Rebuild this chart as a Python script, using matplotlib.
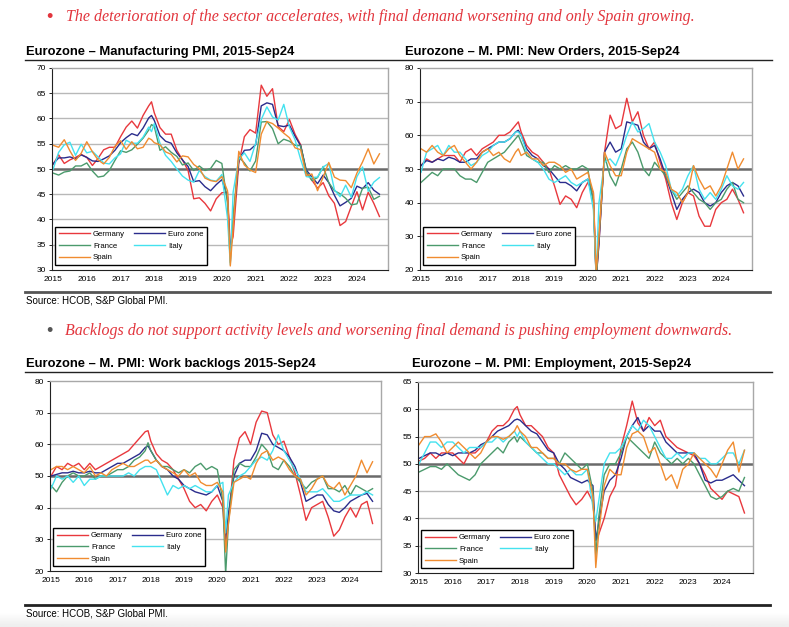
import numpy as np
import matplotlib
matplotlib.use('Agg')
import matplotlib.pyplot as plt
from matplotlib.lines import Line2D

plt.rcParams['font.family'] = ['Liberation Sans', 'DejaVu Sans']

# sample months (bi-monthly, plus a few turning points)
months = ['2015-01', '2015-03', '2015-05', '2015-07', '2015-09', '2015-11',
          '2016-01', '2016-03', '2016-05', '2016-07', '2016-09', '2016-11',
          '2017-01', '2017-03', '2017-05', '2017-07', '2017-09', '2017-11', '2017-12',
          '2018-01', '2018-03', '2018-05', '2018-07', '2018-09', '2018-11',
          '2019-01', '2019-03', '2019-05', '2019-07', '2019-09', '2019-11',
          '2020-01', '2020-03', '2020-04', '2020-05', '2020-07', '2020-09', '2020-11',
          '2021-01', '2021-03', '2021-05', '2021-07', '2021-09', '2021-11',
          '2022-01', '2022-03', '2022-05', '2022-07', '2022-09', '2022-11',
          '2023-01', '2023-03', '2023-05', '2023-07', '2023-09', '2023-11',
          '2024-01', '2024-03', '2024-05', '2024-07', '2024-09']

years = list(range(2015, 2025))
countries = ['Germany', 'Euro zone', 'France', 'Italy', 'Spain']

# Manufacturing PMI
mfg_germany = [50.9, 52.8, 51.1, 51.8, 52.3, 52.9,
               52.3, 50.7, 52.1, 53.8, 54.3, 54.3,
               56.4, 58.3, 59.5, 58.1, 60.6, 62.5, 63.3,
               61.1, 58.2, 56.9, 56.9, 53.7, 51.8,
               49.7, 44.1, 44.3, 43.2, 41.7, 44.1,
               45.3, 45.4, 34.5, 36.6, 51.0, 56.4, 57.8,
               57.1, 66.6, 64.4, 65.9, 58.4, 57.4,
               59.8, 56.9, 54.8, 49.3, 47.8, 46.2,
               47.3, 44.7, 43.2, 38.8, 39.6, 42.6,
               45.5, 41.9, 45.4, 43.2, 40.6]
mfg_ez = [51.0, 52.2, 52.2, 52.4, 52.0, 52.8,
          52.3, 51.6, 51.5, 52.0, 52.6, 53.7,
          55.2, 56.2, 57.0, 56.6, 58.1, 60.1, 60.6,
          59.6, 56.6, 55.5, 55.1, 53.2, 51.8,
          50.5, 47.5, 47.7, 46.5, 45.7, 46.9,
          47.9, 44.5, 33.4, 39.4, 51.8, 53.7, 53.8,
          54.8, 62.5, 63.1, 62.8, 58.6, 58.4,
          58.7, 56.5, 54.6, 49.8, 48.4, 47.1,
          48.8, 47.3, 44.8, 42.7, 43.4, 44.2,
          46.6, 46.1, 47.3, 45.8, 45.0]
mfg_france = [49.2, 48.8, 49.4, 49.6, 50.6, 50.6,
              51.2, 49.6, 48.4, 48.6, 49.7, 51.7,
              53.6, 53.3, 53.8, 54.9, 56.1, 57.7, 58.8,
              58.4, 53.7, 54.4, 53.3, 52.5, 50.8,
              51.2, 49.7, 50.6, 49.7, 50.1, 51.7,
              51.1, 43.2, 31.5, 40.6, 52.4, 51.2, 49.6,
              51.6, 59.3, 59.4, 58.0, 55.0, 55.9,
              55.5, 54.7, 54.6, 49.5, 47.7, 48.3,
              50.5, 47.3, 45.7, 45.1, 44.2, 42.9,
              43.1, 46.2, 46.4, 44.0, 44.6]
mfg_italy = [49.9, 53.3, 54.8, 55.3, 52.7, 54.9,
             53.2, 53.5, 52.4, 51.2, 51.0, 52.2,
             53.0, 55.7, 55.1, 55.1, 56.3, 58.3, 57.4,
             59.0, 55.1, 52.7, 51.5, 50.0, 48.6,
             47.8, 47.4, 49.7, 48.5, 47.8, 47.6,
             48.9, 40.3, 31.1, 45.4, 51.9, 53.2, 51.5,
             55.1, 59.8, 62.3, 60.3, 59.7, 62.8,
             58.3, 55.8, 51.9, 48.5, 48.3, 48.4,
             50.4, 51.1, 45.9, 44.5, 46.8, 44.4,
             48.5, 50.4, 45.6, 47.4, 48.3]
mfg_spain = [54.7, 54.3, 55.8, 53.6, 51.7, 53.1,
             55.4, 53.4, 51.8, 51.0, 52.3, 54.5,
             55.6, 53.9, 55.4, 54.0, 54.3, 56.1, 55.8,
             55.2, 54.8, 53.4, 52.9, 51.4, 52.6,
             52.4, 50.9, 50.1, 48.2, 47.7, 47.5,
             48.5, 45.7, 30.8, 38.3, 53.5, 50.8, 49.8,
             49.3, 56.9, 59.4, 59.0, 58.1, 57.1,
             56.2, 54.2, 53.8, 48.7, 49.0, 45.7,
             48.4, 51.3, 48.4, 47.8, 47.7, 46.3,
             49.2, 51.4, 54.0, 51.0, 53.0]

# New orders
no_germany = [51, 53, 52, 53, 54, 54,
              54, 52, 55, 56, 54, 56,
              57, 58, 60, 60, 61, 63, 64,
              61, 57, 55, 54, 52, 50,
              45, 39.5, 42, 41, 38.5, 43,
              46, 43, 17, 28, 55, 66, 62,
              63, 71, 64, 67, 60, 56,
              58, 52, 47, 40, 35, 40,
              43, 42, 36, 33, 33, 38,
              40, 41, 44, 41, 37]
no_ez = [51, 52.5, 52, 53, 52.5, 53.5,
         53, 52, 52, 53, 53, 55,
         56, 57, 58, 58, 59, 61, 61.5,
         60, 56, 54, 53, 51, 50,
         48, 46, 46, 45, 43.5, 46,
         47, 41, 17.5, 28, 55, 58, 55,
         56, 64, 63.5, 63, 58, 56,
         57, 53, 48, 43, 38, 41,
         43, 44, 43, 40, 39, 40,
         43, 45, 46, 45, 42]
no_france = [46, 47.5, 49, 48, 50, 50,
             50, 48, 47, 47, 46, 49,
             52, 53, 54, 55, 57, 59, 60,
             58, 54, 53, 52, 52, 49,
             51, 50, 51, 50, 50, 51,
             50, 40, 17, 30, 54, 48, 45,
             50, 56, 58, 55, 50, 48,
             52, 50, 48, 44, 41, 43,
             45, 43, 41, 40, 38, 40,
             41, 44, 46, 41, 40]
no_italy = [49, 55, 56, 57, 54, 57,
            55, 55, 53, 51, 52, 54,
            55, 57, 58, 58, 59, 61, 61,
            60, 55, 53, 52, 50, 47,
            46, 47, 48, 46, 45, 46,
            47, 38, 19, 40, 52, 53, 51,
            55, 60, 64, 61, 62, 63.5,
            58, 55, 51, 44, 42, 44,
            48, 51, 44, 41, 43, 41,
            44, 48, 45, 44, 46]
no_spain = [56, 55, 57, 55, 54, 56,
            57, 54, 52, 50, 52, 55,
            56, 54, 55, 53, 52, 55, 56,
            54, 55, 53, 53, 51, 52,
            52, 51, 49, 50, 47, 48,
            49, 43, 19, 30, 55, 51, 48,
            48, 55, 59, 58, 57, 56,
            55, 50, 49, 44, 43, 40,
            43, 51, 47, 44, 45, 42,
            45, 50, 55, 50, 53]

# Work backlogs
bl_germany = [50, 53, 52, 54, 53, 54,
              52, 54, 52, 53, 54, 55,
              56, 57, 58, 60, 62, 64, 64.3,
              61, 57, 55, 54, 52, 49,
              46, 42, 40, 41, 39, 42,
              44, 40, 27, 36, 55, 62, 64,
              60, 67, 70.5, 70, 63, 60,
              61, 56, 51, 44, 36, 40,
              41, 42, 37, 31, 33, 37,
              40, 37, 41, 42, 35]
bl_ez = [50, 50.5, 51, 51, 51.5, 51,
         51, 51.5, 51, 51, 52, 53,
         54, 54, 55, 56, 57, 59, 59.5,
         58, 55, 53, 52, 50, 49,
         47, 46, 45, 44.5, 44, 45,
         47, 42, 30, 38, 50, 54, 55,
         55, 58, 63.5, 63, 60, 59,
         58, 56, 53, 48, 42, 43,
         44, 44, 41, 39, 38.5, 40,
         42, 43, 44, 44.5, 42]
bl_france = [47, 45, 48, 50, 51, 50,
             50, 51, 49, 50, 50, 51,
             52, 52, 53, 55, 56, 58, 60.5,
             58, 55, 53, 53, 52, 51,
             52, 51, 53, 54, 52, 53,
             52, 42, 19, 35, 52, 54, 53,
             53, 56, 60, 58, 53, 52,
             55, 53, 50, 48, 46, 48,
             49, 50, 46, 46, 45, 47,
             44, 47, 46, 45, 46]
bl_italy = [46, 50, 49, 50, 48, 50,
            47, 49, 49, 50, 50, 50,
            50, 50, 51, 50, 52, 53, 53,
            53, 52, 48, 44, 47, 46,
            47, 46, 47, 46, 45, 45,
            47, 48, 32, 44, 48, 50, 51,
            53, 55, 56, 55, 58, 63,
            58, 55, 52, 49, 45, 45,
            45, 46, 44, 42, 42, 43,
            44, 44, 44, 45, 44]
bl_spain = [52, 53, 53, 52, 53, 52,
            51, 53, 50, 51, 50, 52,
            53, 54, 53, 53, 54, 55, 55,
            54, 55, 53, 52, 51, 50,
            52, 50, 51, 48, 47, 47,
            48, 45, 26, 35, 48, 49, 50,
            49, 54, 57, 58, 55, 56,
            55, 52, 50, 49, 44, 46,
            49, 50, 47, 46, 48, 44,
            47, 50, 55, 51, 54.5]

# Employment
emp_germany = [50.5, 51, 52, 51, 52, 52,
               52, 51, 50, 52, 52, 53,
               54, 56, 57, 57, 58, 60, 60.5,
               59, 57, 57, 56, 55, 53,
               52, 48, 46, 44, 42.5, 43.5,
               45, 43, 36, 37, 40, 44, 46,
               53, 57, 61.5, 57.5, 56, 58.5,
               57, 58, 55, 54, 53, 52.5,
               52, 51.5, 50, 48, 45.5, 44.5,
               43.5, 45, 44.5, 44, 41]
emp_ez = [51, 51.5, 52, 52, 51.5, 52,
          51.5, 52, 52, 52, 52.5, 53.5,
          54, 55, 56, 56.5, 57, 58, 58.2,
          58, 57, 56, 55.5, 54, 52.5,
          52, 50, 49, 47.5, 47, 46.5,
          47, 46, 36, 39, 45, 47, 48,
          51, 55, 57, 58.5, 56, 57,
          56, 56, 54, 53, 52, 52,
          52, 52, 50, 47, 46.5, 47,
          47, 47.5, 48, 47, 46]
emp_france = [48.5, 49, 49.5, 49.5, 49, 50,
              49, 48, 47.5, 47, 48, 50,
              51, 52, 53, 52, 54, 55, 54,
              55, 54, 53, 52, 52, 51,
              51, 50, 52, 51, 50, 49,
              50, 45, 33, 40, 48, 50, 50,
              52, 55, 54, 53, 52, 51,
              54, 52, 51, 50, 51, 50,
              51, 50, 48, 46, 44, 43.5,
              44, 45, 45.5, 45, 47.5]
emp_italy = [50, 52, 54, 54, 53, 54,
             54, 53, 52, 53, 53, 53,
             54, 54, 55, 54, 55, 56, 55,
             56, 54, 53, 52, 51, 50,
             50, 49, 48, 49, 48, 48,
             49, 42, 39.5, 43, 50, 52, 52,
             53, 55, 57, 56, 58, 57,
             55, 53, 51, 51, 52, 51,
             52, 52, 51, 51, 50, 50,
             51, 52, 52, 50, 52.5]
emp_spain = [53.5, 55, 55, 55.5, 54, 52,
             53, 54, 53, 52, 51, 52,
             54, 55, 55, 54.5, 55, 56, 57,
             56, 55, 53, 53, 52, 51,
             51, 50, 50, 49, 48.5, 49,
             49, 44, 31, 37, 46, 49, 48,
             48, 53, 55.5, 56, 55, 52,
             53, 50, 47, 48, 45.5, 49,
             50, 52, 51, 50, 49, 47.5,
             50, 52.5, 54, 48.5, 52.5]

colors = {'Germany': '#e8383d', 'Euro zone': '#2a2c8c', 'France': '#4b9a6c',
          'Italy': '#44e2ef', 'Spain': '#f08c30'}

W, H = 789, 627
fig = plt.figure(figsize=(W / 100, H / 100), dpi=100)

# faint grey page edge at the bottom
bg = fig.add_axes([0, 0, 1, 15 / H], zorder=-5)
bg.imshow(np.linspace(1.0, 0.93, 20).reshape(-1, 1), cmap='gray', vmin=0,
          vmax=1, aspect='auto', extent=(0, 1, 0, 1))
bg.axis('off')


def px_axes(x0, y0, x1, y1):
    return fig.add_axes([x0 / W, 1 - y1 / H, (x1 - x0) / W, (y1 - y0) / H])


def hline(x0, x1, y, lw, color):
    fig.add_artist(Line2D([x0 / W, x1 / W], [1 - y / H, 1 - y / H],
                          lw=lw, color=color, transform=fig.transFigure))


x = np.array([int(m[:4]) + (int(m[5:]) - 1) / 12 for m in months])


def panel(box, series, ylim, step, title, title_xy):
    ax = px_axes(*box)
    for name in ['Germany', 'Euro zone', 'France', 'Italy', 'Spain']:
        ax.plot(x, series[name], color=colors[name], lw=1.0, label=name)
    ax.set_xlim(2014.97, 2024.92)
    ax.set_ylim(*ylim)
    yt = np.arange(ylim[0], ylim[1] + 0.1, step)
    ax.set_yticks(yt)
    ax.set_yticklabels([f'{v:.0f}' for v in yt])
    for v in yt[1:-1]:
        if v == 50:
            ax.axhline(v, color='#6a6a6a', lw=1.8, zorder=0.5)
        else:
            ax.axhline(v, color='#b8b8b8', lw=1.0, zorder=0.5)
    ax.set_xticks(years)
    ax.set_xticklabels([str(y) for y in years])
    ax.tick_params(axis='x', length=0, labelsize=6, pad=4)
    ax.tick_params(axis='y', length=2.5, width=0.6, labelsize=6, pad=2)
    for s in ['left', 'bottom']:
        ax.spines[s].set_color('#222222')
        ax.spines[s].set_linewidth(0.8)
    for s in ['top', 'right']:
        ax.spines[s].set_color('#a8a8a8')
        ax.spines[s].set_linewidth(1.0)
    h, l = ax.get_legend_handles_labels()
    order = [0, 2, 4, 1, 3]
    leg = ax.legend([h[i] for i in order], [l[i] for i in order], ncol=2,
                    loc='lower left', bbox_to_anchor=(0.01, 0.025),
                    borderaxespad=0, fontsize=5.6, handlelength=4.0,
                    columnspacing=1.1, labelspacing=0.55, handletextpad=0.4,
                    fancybox=False, framealpha=1, edgecolor='black',
                    borderpad=0.45)
    leg.get_frame().set_linewidth(1.0)
    fig.text(title_xy[0] / W, 1 - title_xy[1] / H, title, fontsize=9.4,
             fontweight='bold', va='center', ha='left')
    return ax


red_txt = '#e2353d'
fig.text(46 / W, 1 - 17 / H, '\u2022', color=red_txt, fontsize=13,
         va='center', ha='left')
fig.text(66 / W, 1 - 17 / H,
         'The deterioration of the sector accelerates, with final demand '
         'worsening and only Spain growing.',
         family='Liberation Serif', style='italic', color=red_txt,
         fontsize=11.5, va='center', ha='left')
fig.text(46 / W, 1 - 331 / H, '\u2022', color='#555555', fontsize=13,
         va='center', ha='left')
fig.text(65 / W, 1 - 331 / H,
         'Backlogs do not support activity levels and worsening final demand '
         'is pushing employment downwards.',
         family='Liberation Serif', style='italic', color=red_txt,
         fontsize=11.5, va='center', ha='left')

panel((52, 68, 388, 270),
      {'Germany': mfg_germany, 'Euro zone': mfg_ez, 'France': mfg_france,
       'Italy': mfg_italy, 'Spain': mfg_spain},
      (30, 70), 5, 'Eurozone \u2013 Manufacturing PMI, 2015-Sep24', (26, 52))
panel((420, 68, 752, 270),
      {'Germany': no_germany, 'Euro zone': no_ez, 'France': no_france,
       'Italy': no_italy, 'Spain': no_spain},
      (20, 80), 10, 'Eurozone \u2013 M. PMI: New Orders, 2015-Sep24', (405, 52))
panel((50, 381, 381, 571),
      {'Germany': bl_germany, 'Euro zone': bl_ez, 'France': bl_france,
       'Italy': bl_italy, 'Spain': bl_spain},
      (20, 80), 10, 'Eurozone \u2013 M. PMI: Work backlogs 2015-Sep24', (26, 364))
panel((418, 382, 753, 573),
      {'Germany': emp_germany, 'Euro zone': emp_ez, 'France': emp_france,
       'Italy': emp_italy, 'Spain': emp_spain},
      (30, 65), 5, 'Eurozone \u2013 M. PMI: Employment, 2015-Sep24', (412, 364))

# rules
hline(25, 772, 60, 1.0, '#222222')
hline(25, 772, 372, 1.0, '#222222')
hline(25, 770, 292, 2.0, '#555555')
hline(25, 770, 605, 2.0, '#222222')

fig.text(26 / W, 1 - 300 / H, 'Source: HCOB, S&P Global PMI.', fontsize=7,
         va='center', ha='left')
fig.text(26 / W, 1 - 614 / H, 'Source: HCOB, S&P Global PMI.', fontsize=7,
         va='center', ha='left')

fig.savefig('out.png', dpi=100)
